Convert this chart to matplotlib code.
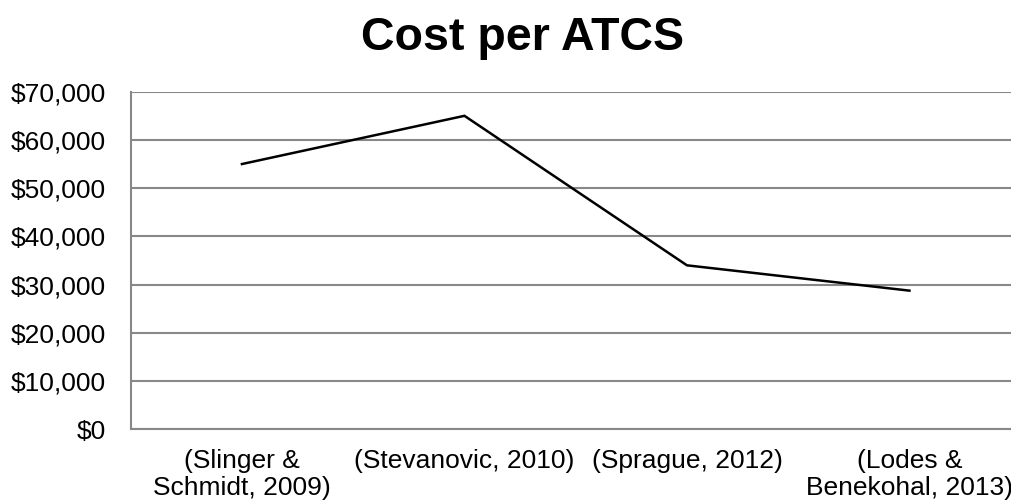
import matplotlib
matplotlib.use('Agg')
import matplotlib.pyplot as plt
from matplotlib.ticker import FuncFormatter

plt.rcParams['font.family'] = ['Liberation Sans', 'DejaVu Sans']

# --- Data ---
studies = ['(Slinger &\nSchmidt, 2009)', '(Stevanovic, 2010)', '(Sprague, 2012)',
           '(Lodes &\nBenekohal, 2013)']
cost = [55000, 65000, 34000, 28750]
y_ticks = [0, 10000, 20000, 30000, 40000, 50000, 60000, 70000]

fig = plt.figure(figsize=(10.12, 5.03), dpi=100)
# plot area runs past the right edge, as in the cropped original
ax = fig.add_axes([130.7 / 1012, (503 - 429.3) / 503, 890 / 1012, 337.6 / 503])

x = range(len(studies))
ax.plot(x, cost, color='black', linewidth=1.8, solid_joinstyle='miter')

ax.set_xlim(-0.5, len(studies) - 0.5)
ax.set_ylim(0, 70000)
ax.set_yticks(y_ticks)
ax.yaxis.set_major_formatter(FuncFormatter(lambda v, p: '${:,.0f}'.format(v)))
ax.set_xticks(list(x))
ax.set_xticklabels(studies, fontsize=19, linespacing=1.15)
ax.tick_params(axis='y', labelsize=19, length=0, pad=18)
ax.tick_params(axis='x', length=0, pad=14)

ax.grid(axis='y', color='#888888', linewidth=1.5)
ax.set_axisbelow(True)
for side in ['top', 'right']:
    ax.spines[side].set_visible(False)
for side in ['left', 'bottom']:
    ax.spines[side].set_color('#888888')
    ax.spines[side].set_linewidth(1.5)

fig.text(523 / 1012, 1 - 38 / 503, 'Cost per ATCS', ha='center', va='center',
         fontsize=33.5, fontweight='bold')

fig.savefig('out.png', dpi=100)
